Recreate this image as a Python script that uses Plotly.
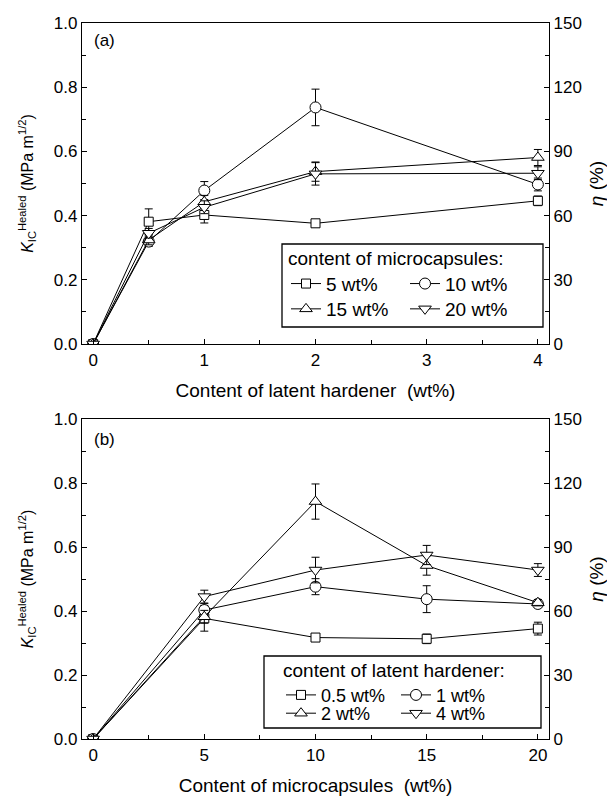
import plotly.graph_objects as go

# ---------------- data ----------------
# Panel (a): healed fracture toughness vs. latent hardener content
hardener_x = [0, 0.5, 1, 2, 4]
a_labels = ["5 wt%", "10 wt%", "15 wt%", "20 wt%"]
a_cap5 = [0, 0.381, 0.402, 0.376, 0.446]
a_cap5_err = [0, 0.040, 0.025, 0.010, 0.015]
a_cap10 = [0, 0.319, 0.478, 0.737, 0.497]
a_cap10_err = [0, 0.015, 0.028, 0.057, 0.020]
a_cap15 = [0, 0.324, 0.443, 0.537, 0.581]
a_cap15_err = [0, 0.015, 0.020, 0.030, 0.025]
a_cap20 = [0, 0.345, 0.426, 0.530, 0.532]
a_cap20_err = [0, 0.015, 0.020, 0.035, 0.020]

# Panel (b): healed fracture toughness vs. microcapsule content
capsule_x = [0, 5, 10, 15, 20]
b_labels = ["0.5 wt%", "1 wt%", "2 wt%", "4 wt%"]
b_hard05 = [0, 0.377, 0.317, 0.313, 0.345]
b_hard05_err = [0, 0.040, 0.010, 0.015, 0.020]
b_hard1 = [0, 0.403, 0.476, 0.437, 0.422]
b_hard1_err = [0, 0.020, 0.025, 0.042, 0.010]
b_hard2 = [0, 0.382, 0.742, 0.542, 0.426]
b_hard2_err = [0, 0.020, 0.055, 0.030, 0.010]
b_hard4 = [0, 0.445, 0.528, 0.575, 0.528]
b_hard4_err = [0, 0.020, 0.040, 0.030, 0.020]

symbols = ["square", "circle", "triangle-up", "triangle-down"]
sizes = [9, 11, 11, 11]

W, H = 607, 796
FONT = "Liberation Sans, Arial, sans-serif"


def px_x(p):
    return p / W


def px_y(p):
    return 1 - p / H


fig = go.Figure()

panel_a = [(a_cap5, a_cap5_err), (a_cap10, a_cap10_err),
           (a_cap15, a_cap15_err), (a_cap20, a_cap20_err)]
panel_b = [(b_hard05, b_hard05_err), (b_hard1, b_hard1_err),
           (b_hard2, b_hard2_err), (b_hard4, b_hard4_err)]

for i, (ys, es) in enumerate(panel_a):
    fig.add_trace(go.Scatter(
        x=hardener_x, y=ys, name=a_labels[i], mode="lines+markers",
        xaxis="x", yaxis="y",
        legend="legend" if i < 2 else "legend2",
        line=dict(color="black", width=1),
        marker=dict(symbol=symbols[i], size=sizes[i], color="white",
                    line=dict(color="black", width=1)),
        error_y=dict(type="data", array=es, color="black", thickness=1, width=4),
    ))

for i, (ys, es) in enumerate(panel_b):
    fig.add_trace(go.Scatter(
        x=capsule_x, y=ys, name=b_labels[i], mode="lines+markers",
        xaxis="x2", yaxis="y3",
        legend="legend3" if i < 2 else "legend4",
        line=dict(color="black", width=1),
        marker=dict(symbol=symbols[i], size=sizes[i], color="white",
                    line=dict(color="black", width=1)),
        error_y=dict(type="data", array=es, color="black", thickness=1, width=4),
    ))

# empty traces so the healing-efficiency axes on the right are created
fig.add_trace(go.Scatter(x=[], y=[], xaxis="x", yaxis="y2", showlegend=False, hoverinfo="skip"))
fig.add_trace(go.Scatter(x=[], y=[], xaxis="x2", yaxis="y4", showlegend=False, hoverinfo="skip"))

tickfont = dict(family=FONT, size=17, color="black")
titlefont = dict(family=FONT, size=19, color="black")
ytitlefont = dict(family=FONT, size=16, color="black")
xdom = [px_x(82), px_x(549)]
dom_a = [px_y(344), px_y(23)]
dom_b = [px_y(739), px_y(419)]

common = dict(showline=True, linecolor="black", linewidth=1.3, showgrid=False,
              zeroline=False, ticks="inside", ticklen=5, tickwidth=1.2,
              tickcolor="black", tickfont=tickfont, automargin=False)

ktitle = "<i>K</i><sub>IC</sub><sup>Healed</sup> (MPa m<sup>1/2</sup>)"
etitle = "<i>η</i> (%)"

fig.update_layout(
    width=W, height=H,
    margin=dict(l=0, r=0, t=0, b=0, autoexpand=False),
    paper_bgcolor="white", plot_bgcolor="white",
    font=dict(family=FONT, color="black"),
    xaxis=dict(domain=xdom, anchor="y", range=[-0.1, 4.1], tickvals=[0, 1, 2, 3, 4],
               mirror=True,
               minor=dict(ticks="inside", dtick=0.5, ticklen=4, tickcolor="black"),
               title=dict(text="Content of latent hardener  (wt%)", font=titlefont, standoff=15),
               **common),
    yaxis=dict(domain=dom_a, anchor="x", range=[0, 1], dtick=0.2, tickformat=".1f",
               minor=dict(ticks="inside", dtick=0.1, ticklen=4, tickcolor="black"),
               title=dict(text=ktitle, font=ytitlefont, standoff=16),
               **common),
    yaxis2=dict(overlaying="y", side="right", anchor="x", range=[0, 150], dtick=30,
                minor=dict(ticks="inside", dtick=15, ticklen=4, tickcolor="black"),
                title=dict(text=etitle, font=titlefont, standoff=8),
                **common),
    xaxis2=dict(domain=xdom, anchor="y3", range=[-0.5, 20.5], tickvals=[0, 5, 10, 15, 20],
                mirror=True,
                minor=dict(ticks="inside", dtick=2.5, ticklen=4, tickcolor="black"),
                title=dict(text="Content of microcapsules  (wt%)", font=titlefont, standoff=16),
                **common),
    yaxis3=dict(domain=dom_b, anchor="x2", range=[0, 1], dtick=0.2, tickformat=".1f",
                minor=dict(ticks="inside", dtick=0.1, ticklen=4, tickcolor="black"),
                title=dict(text=ktitle, font=ytitlefont, standoff=16),
                **common),
    yaxis4=dict(overlaying="y3", side="right", anchor="x2", range=[0, 150], dtick=30,
                minor=dict(ticks="inside", dtick=15, ticklen=4, tickcolor="black"),
                title=dict(text=etitle, font=titlefont, standoff=8),
                **common),
)

legfont_a = dict(family=FONT, size=19, color="black")
legfont_b = dict(family=FONT, size=18, color="black")
leg_common = dict(orientation="h", bgcolor="rgba(0,0,0,0)", borderwidth=0,
                  xanchor="left", yanchor="top", itemwidth=30, tracegroupgap=0)

fig.update_layout(
    legend=dict(x=px_x(286), y=px_y(240), font=legfont_a, entrywidth=74,
                title=dict(text="content of microcapsules:", side="top", font=legfont_a),
                **leg_common),
    legend2=dict(x=px_x(286), y=px_y(290), font=legfont_a, entrywidth=74, **leg_common),
    legend3=dict(x=px_x(281), y=px_y(652), font=legfont_b, entrywidth=70,
                 title=dict(text="content of latent hardener:", side="top", font=legfont_a),
                 **leg_common),
    legend4=dict(x=px_x(281), y=px_y(695), font=legfont_b, entrywidth=70, **leg_common),
)

# legend frames
fig.add_shape(type="rect", xref="paper", yref="paper",
              x0=px_x(282), x1=px_x(543), y0=px_y(327), y1=px_y(244),
              line=dict(color="black", width=1.3))
fig.add_shape(type="rect", xref="paper", yref="paper",
              x0=px_x(264), x1=px_x(541), y0=px_y(728), y1=px_y(656),
              line=dict(color="black", width=1.3))

fig.add_annotation(text="(a)", xref="paper", yref="paper", x=px_x(92), y=px_y(40),
                   xanchor="left", yanchor="middle", showarrow=False,
                   font=dict(family=FONT, size=17, color="black"))
fig.add_annotation(text="(b)", xref="paper", yref="paper", x=px_x(92), y=px_y(440),
                   xanchor="left", yanchor="middle", showarrow=False,
                   font=dict(family=FONT, size=17, color="black"))

fig.write_html("out.html")
